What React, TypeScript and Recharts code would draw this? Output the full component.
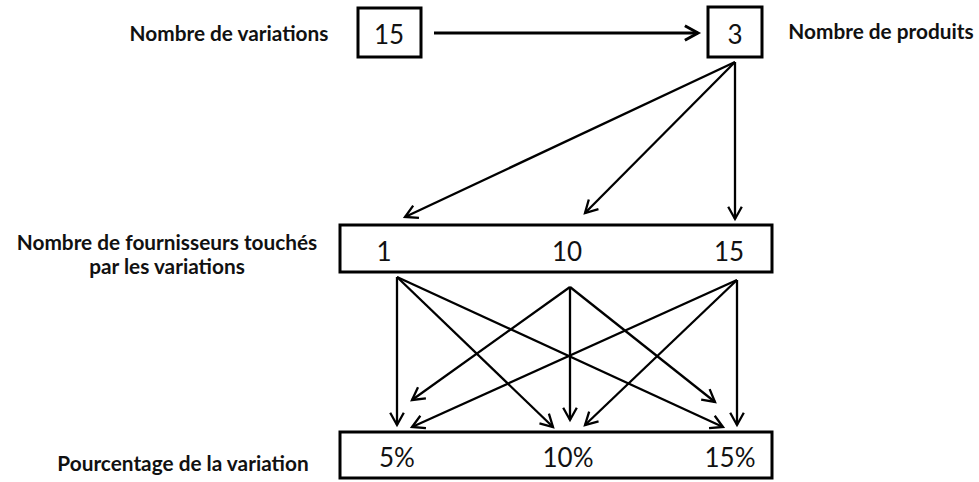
import React from "react";
import { ScatterChart, Scatter, XAxis, YAxis, ReferenceArea } from "recharts";

const W = 979;
const H = 482;
const FONT = "Lato, 'Open Sans', sans-serif";

// values shown in the boxes
const variations = ["15"];
const produits = ["3"];
const fournisseurs = ["1", "10", "15"];
const pourcentages = ["5%", "10%", "15%"];

// row labels
const rowLabels = [
  { lines: ["Nombre de variations"], x: 229, y: 32 },
  { lines: ["Nombre de produits"], x: 881, y: 30 },
  { lines: ["Nombre de fournisseurs touchés", "par les variations"], x: 167, y: 241 },
  { lines: ["Pourcentage de la variation"], x: 183, y: 462 },
];

// layout (axis units = px of the 979x482 plot)
const boxes = [
  { x1: 358, x2: 421, y1: 8, y2: 57 },
  { x1: 708, x2: 762, y1: 7, y2: 57 },
  { x1: 340, x2: 772, y1: 225, y2: 272 },
  { x1: 340, x2: 772, y1: 432, y2: 478 },
];
const fournX = [384, 567, 729];
const pctX = [397, 568, 730];

const valueText = [
  ...variations.map((t) => ({ x: 389, y: 34, text: t })),
  ...produits.map((t) => ({ x: 735, y: 34, text: t })),
  ...fournisseurs.map((t, i) => ({ x: fournX[i], y: 251, text: t })),
  ...pourcentages.map((t, i) => ({ x: pctX[i], y: 457, text: t })),
];

// arrows: [from, to]
const topArrow = [{ x: 434, y: 33 }, { x: 698, y: 33 }];
const produitsOut = { x: 735, y: 62 };
const produitsTargets = [{ x: 405, y: 217 }, { x: 585, y: 213 }, { x: 735, y: 219 }];
const fournOrigins = [{ x: 397, y: 277 }, { x: 570, y: 287 }, { x: 737, y: 280 }];
const pctTargets = [
  [{ x: 397, y: 425 }, { x: 553, y: 427 }, { x: 723, y: 427 }],
  [{ x: 412, y: 400 }, { x: 570, y: 420 }, { x: 715, y: 402 }],
  [{ x: 412, y: 427 }, { x: 585, y: 425 }, { x: 737, y: 425 }],
];

const edges = [
  ...produitsTargets.map((t) => [produitsOut, t]),
  ...fournOrigins.flatMap((o, i) => pctTargets[i].map((t) => [o, t])),
];

const arrowLine = (w: number, head: number) => (props: any) => {
  const pts = props.points;
  if (!pts || pts.length < 2) return <g />;
  const a = pts[0];
  const b = pts[pts.length - 1];
  const ang = Math.atan2(b.y - a.y, b.x - a.x);
  const spread = Math.PI / 6.2;
  const l = { x: b.x - head * Math.cos(ang - spread), y: b.y - head * Math.sin(ang - spread) };
  const r = { x: b.x - head * Math.cos(ang + spread), y: b.y - head * Math.sin(ang + spread) };
  return (
    <g>
      <line x1={a.x} y1={a.y} x2={b.x} y2={b.y} stroke="#000" strokeWidth={w} />
      <polyline
        points={`${l.x},${l.y} ${b.x},${b.y} ${r.x},${r.y}`}
        fill="none"
        stroke="#000"
        strokeWidth={w}
        strokeLinejoin="miter"
      />
    </g>
  );
};

const noDot = () => <g />;

const ValueShape = (props: any) => (
  <text
    x={props.cx}
    y={props.cy}
    textAnchor="middle"
    dominantBaseline="central"
    fontFamily={FONT}
    fontSize={26}
    fill="#111"
  >
    {props.payload.text}
  </text>
);

const LabelShape = (props: any) => {
  const lines: string[] = props.payload.lines;
  return (
    <text
      x={props.cx}
      y={props.cy}
      textAnchor="middle"
      dominantBaseline="central"
      fontFamily={FONT}
      fontWeight={700}
      fontSize={20.8}
      fill="#111"
    >
      {lines.map((ln, i) => (
        <tspan key={i} x={props.cx} dy={i === 0 ? 0 : 24}>
          {ln}
        </tspan>
      ))}
    </text>
  );
};

export default function App() {
  return (
    <div style={{ width: W, height: H, background: "#fff" }}>
      <style>{"body{margin:0}"}</style>
      <ScatterChart width={W} height={H} margin={{ top: 0, right: 0, bottom: 0, left: 0 }}>
        <XAxis type="number" dataKey="x" domain={[0, W]} hide />
        <YAxis type="number" dataKey="y" domain={[0, H]} reversed hide />
        {boxes.map((b, i) => (
          <ReferenceArea
            key={`box-${i}`}
            x1={b.x1}
            x2={b.x2}
            y1={b.y1}
            y2={b.y2}
            fill="#fff"
            fillOpacity={0}
            stroke="#000"
            strokeWidth={3}
            ifOverflow="visible"
          />
        ))}
        <Scatter
          data={topArrow}
          line={arrowLine(3, 15)}
          shape={noDot}
          isAnimationActive={false}
        />
        {edges.map((e, i) => (
          <Scatter
            key={`edge-${i}`}
            data={e}
            line={arrowLine(2.3, 14)}
            shape={noDot}
            isAnimationActive={false}
          />
        ))}
        <Scatter data={valueText} shape={ValueShape} isAnimationActive={false} />
        <Scatter data={rowLabels} shape={LabelShape} isAnimationActive={false} />
      </ScatterChart>
    </div>
  );
}
